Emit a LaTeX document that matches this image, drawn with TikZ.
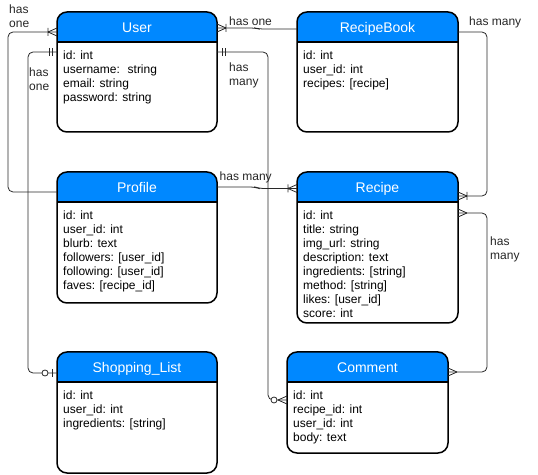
\documentclass[tikz,border=0pt]{standalone}
\usepackage{fontspec}
\setmainfont{Liberation Sans}
\usetikzlibrary{calc}
\definecolor{headblue}{RGB}{0,136,255}
\definecolor{relgray}{RGB}{40,40,40}
\tikzset{
	entbox/.style={rectangle, fill=white, inner sep=0pt, outer sep=0pt, anchor=north west},
	entline/.style={line width=1.5pt, black},
	enttitle/.style={text=white, inner sep=0pt, anchor=base, font=\fontsize{14}{16}\selectfont},
	entfields/.style={anchor=north west, align=left, inner sep=0pt, font=\fontsize{12}{14}\selectfont},
	rel/.style={draw=relgray, line width=0.8pt, rounded corners=5pt},
	rellabel/.style={anchor=north west, align=left, inner sep=0pt, text=black!85, font=\fontsize{12}{14}\selectfont},
	crow/.pic={\draw[rel] (9,0) -- (0,4) (9,0) -- (0,-4);},
	onemany/.pic={\draw[rel] (9,0) -- (0,4) (9,0) -- (0,-4) (9,-4) -- (9,4);},
	mandone/.pic={\draw[rel] (5,-4) -- (5,4) (8,-4) -- (8,4);},
	zeroone/.pic={\draw[rel] (4.5,-4) -- (4.5,4); \draw[rel, fill=white] (12,0) circle (3);},
	zeromany/.pic={\draw[rel] (9,0) -- (0,4) (9,0) -- (0,-4); \draw[rel, fill=white] (13,0) circle (3);}
}
% #1 name, (#2,#3) top left, #4 width, #5 height, #6 title, #7 fields
\newcommand{\erbox}[7]{
	\node[entbox, minimum width=#4pt, minimum height=#5pt] (#1) at (#2,#3) {};
	\begin{scope}
		\clip[rounded corners=10pt] (#1.north west) rectangle (#1.south east);
		\fill[headblue] (#1.north west) rectangle ($(#1.north east)+(0,-30)$);
	\end{scope}
	\draw[entline] ($(#1.north west)+(0,-30)$) -- ($(#1.north east)+(0,-30)$);
	\draw[entline, rounded corners=10pt] (#1.north west) rectangle (#1.south east);
	\node[enttitle] (#1-title) at ($(#1.north)+(0,-20.5)$) {#6};
	\node[entfields] (#1-fields) at ($(#1.north west)+(6,-38.5)$) {#7};
}

\begin{document}
\begin{tikzpicture}[x=1pt, y=1pt]
	\useasboundingbox (0,0) rectangle (538,474);

	% entities
	\erbox{user}{57}{462}{160}{120}{User}{id: int\\username:~ string\\email: string\\password: string}
	\erbox{book}{297}{462}{161}{120}{RecipeBook}{id: int\\user\_id: int\\recipes: [recipe]}
	\erbox{profile}{57}{302}{160}{131}{Profile}{id: int\\user\_id: int\\blurb: text\\followers: [user\_id]\\following: [user\_id]\\faves: [recipe\_id]}
	\erbox{recipe}{297}{302}{161}{151}{Recipe}{id: int\\title: string\\img\_url: string\\description: text\\ingredients: [string]\\method: [string]\\likes: [user\_id]\\score: int}
	\erbox{shopping}{57}{122}{160}{121}{Shopping\_List}{id: int\\user\_id: int\\ingredients: [string]}
	\erbox{comment}{287}{122}{161}{101}{Comment}{id: int\\recipe\_id: int\\user\_id: int\\body: text}

	% connector ends
	\coordinate (user-l1) at ($(user.north west)+(0,-20)$);
	\coordinate (user-l2) at ($(user.north west)+(0,-40)$);
	\coordinate (user-r1) at ($(user.north east)+(0,-16)$);
	\coordinate (user-r2) at ($(user.north east)+(0,-40)$);
	\coordinate (book-l) at ($(book.north west)+(0,-17)$);
	\coordinate (book-r) at ($(book.north east)+(0,-20)$);
	\coordinate (profile-l) at ($(profile.north west)+(0,-20)$);
	\coordinate (profile-r) at ($(profile.north east)+(0,-15)$);
	\coordinate (recipe-l) at ($(recipe.north west)+(0,-16.5)$);
	\coordinate (recipe-r1) at ($(recipe.north east)+(0,-24)$);
	\coordinate (recipe-r2) at ($(recipe.north east)+(0,-41)$);
	\coordinate (shopping-l) at ($(shopping.north west)+(0,-21)$);
	\coordinate (comment-l) at ($(comment.north west)+(0,-48)$);
	\coordinate (comment-r) at ($(comment.north east)+(0,-20)$);

	% relations
	\draw[rel] (user-l1) -- ++(-49,0) |- (profile-l);
	\draw[rel] (user-l2) -- ++(-29,0) |- (shopping-l);
	\draw[rel] (user-r1) -- ++(38,0) -- ($(book-l)+(-38,0)$) -- (book-l);
	\draw[rel] (user-r2) -- ++(51,0) |- (comment-l);
	\draw[rel] (book-r) -- ++(29,0) |- (recipe-r1);
	\draw[rel] (profile-r) -- ++(38,0) -- ($(recipe-l)+(-38,0)$) -- (recipe-l);
	\draw[rel] (recipe-r2) -- ++(29,0) |- (comment-r);

	% markers
	\pic[rotate=180] at (user-l1) {onemany};
	\pic[rotate=180] at (user-l2) {mandone};
	\pic at (user-r1) {onemany};
	\pic at (user-r2) {mandone};
	\pic[rotate=180] at (shopping-l) {zeroone};
	\pic[rotate=180] at (comment-l) {zeromany};
	\pic at (recipe-r1) {onemany};
	\pic[rotate=180] at (recipe-l) {onemany};
	\pic at (recipe-r2) {crow};
	\pic at (comment-r) {crow};

	% labels
	\node[rellabel] (lab-profile) at (9,469) {has\\one};
	\node[rellabel] (lab-shopping) at (29,406) {has\\one};
	\node[rellabel] (lab-book) at (229,457) {has one};
	\node[rellabel] (lab-comment) at (229,411) {has\\many};
	\node[rellabel] (lab-book-recipe) at (469,457) {has many};
	\node[rellabel] (lab-profile-recipe) at (219.5,302) {has many};
	\node[rellabel] (lab-recipe-comment) at (490,237) {has\\many};
\end{tikzpicture}
\end{document}
